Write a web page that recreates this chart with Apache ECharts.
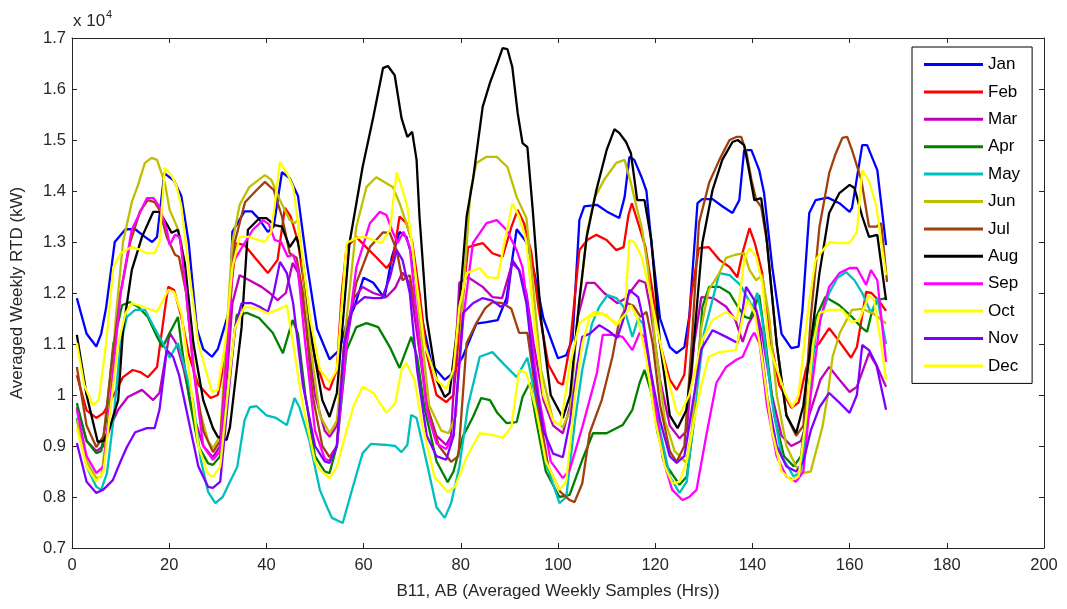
<!DOCTYPE html>
<html>
<head>
<meta charset="utf-8">
<script src="https://cdn.jsdelivr.net/npm/echarts@6/dist/echarts.min.js"></script>
<style>
html,body{margin:0;padding:0;background:#fff;}
#chart{width:1067px;height:609px;}
</style>
</head>
<body>
<div id="chart"></div>
<script>
// Values are in units of 10^4 kW, x = hour of the averaged week
const months = ['Jan','Feb','Mar','Apr','May','Jun','Jul','Aug','Sep','Oct','Nov','Dec'];
const xTicks = [0,20,40,60,80,100,120,140,160,180,200];
const yTicks = [0.7,0.8,0.9,1.0,1.1,1.2,1.3,1.4,1.5,1.6,1.7];

const jan = [[1,1.19],[3,1.12],[5,1.095],[6,1.12],[7,1.17],[8.8,1.30],[11,1.325],[13,1.325],[15,1.31],[16.5,1.30],[17.5,1.31],[19,1.435],[21,1.42],[22.5,1.39],[24,1.30],[25.7,1.13],[27,1.09],[28.8,1.075],[30,1.09],[32.5,1.17],[33,1.32],[35.5,1.36],[37,1.36],[38.5,1.345],[40.3,1.32],[41.5,1.33],[43.2,1.437],[44.8,1.425],[46.5,1.39],[48.3,1.26],[50.4,1.13],[53,1.07],[55,1.088],[56.5,1.14],[58,1.17],[60,1.23],[62,1.22],[64.3,1.19],[65.8,1.27],[67.4,1.32],[68.8,1.31],[70,1.27],[72,1.15],[74,1.06],[76.7,1.03],[78,1.04],[80.4,1.075],[83.2,1.14],[85.3,1.143],[87.6,1.147],[89.4,1.19],[91.5,1.325],[93.5,1.30],[95,1.245],[97,1.15],[100,1.072],[101.7,1.078],[103,1.11],[104.4,1.343],[105.4,1.37],[108,1.373],[110,1.36],[112.6,1.347],[113.7,1.388],[114.7,1.467],[115.7,1.461],[117.2,1.427],[118.2,1.40],[119.2,1.30],[121,1.15],[123,1.094],[124.4,1.082],[126,1.094],[127,1.153],[128.7,1.376],[129.7,1.384],[131.8,1.384],[133.8,1.37],[135.9,1.357],[137.3,1.382],[138.3,1.48],[139.8,1.48],[141.4,1.441],[142.4,1.396],[144.1,1.25],[146,1.12],[148,1.092],[149.5,1.095],[150.3,1.167],[151.7,1.357],[153,1.382],[155.5,1.387],[157.9,1.376],[160,1.359],[160.5,1.367],[162.6,1.49],[163.6,1.49],[165.7,1.441],[167.5,1.294]];

const feb = [[1,1.039],[3,0.97],[5,0.955],[6.5,0.965],[8.8,1.004],[10.5,1.035],[12.5,1.049],[14,1.045],[15.6,1.035],[17.5,1.055],[19.1,1.167],[19.8,1.212],[21,1.206],[22.5,1.153],[24,1.08],[26,1.02],[28.5,0.994],[30,1.0],[31.5,1.07],[32.5,1.2],[33.9,1.298],[35.5,1.294],[38,1.265],[40.3,1.239],[42.3,1.265],[43.8,1.367],[45,1.35],[46.5,1.3],[48,1.2],[50,1.07],[52,1.015],[53,1.01],[54.5,1.05],[55.5,1.2],[56.5,1.29],[58.5,1.31],[60.5,1.29],[62.5,1.271],[64.7,1.249],[66,1.265],[67.4,1.35],[68.8,1.337],[70,1.3],[71.5,1.2],[73,1.08],[75,1.0],[77,0.986],[78.5,1.0],[80,1.15],[81.5,1.29],[84.5,1.298],[86.5,1.278],[88.6,1.271],[90.4,1.329],[91.7,1.363],[93,1.337],[94.5,1.28],[96,1.17],[98,1.06],[100,1.025],[101,1.02],[102.5,1.1],[104.4,1.284],[106,1.304],[107.9,1.314],[110,1.304],[112,1.284],[113.5,1.29],[114.5,1.353],[115.2,1.376],[116.5,1.337],[118,1.29],[119.5,1.2],[121,1.1],[123,1.03],[124.4,1.01],[126,1.04],[127.5,1.2],[129,1.288],[131,1.29],[133.2,1.265],[135.3,1.251],[136.9,1.231],[138,1.28],[139.4,1.327],[140.5,1.298],[142,1.24],[143.5,1.12],[145.5,1.02],[148,0.975],[149.5,0.985],[151,1.05],[152.5,1.09],[153.8,1.102],[155.8,1.131],[157.5,1.11],[160.3,1.073],[161.5,1.094],[163.4,1.202],[164.5,1.2],[166,1.185],[167.5,1.165]];

const mar = [[1,0.976],[3,0.91],[5,0.89],[6.5,0.9],[8,0.94],[9.5,0.971],[11.5,0.996],[14.4,1.01],[16.7,0.99],[18,1.004],[19,1.06],[20.1,1.122],[21.5,1.1],[23,1.05],[25,0.96],[27,0.9],[29,0.878],[30.5,0.9],[32,1.05],[33,1.18],[34.5,1.235],[36.5,1.225],[39,1.212],[40.7,1.2],[42.3,1.186],[44,1.2],[45.4,1.259],[46.5,1.24],[48,1.15],[50,1.0],[52,0.93],[53,0.918],[54.5,0.94],[56.5,1.1],[58,1.19],[59.8,1.212],[62,1.2],[64.7,1.192],[66.5,1.21],[68,1.24],[69.5,1.22],[71,1.12],[73,0.98],[75,0.92],[77,0.902],[78,0.92],[79.7,1.22],[81.5,1.231],[84.5,1.212],[86.5,1.192],[88.5,1.19],[90.6,1.259],[92,1.245],[93.5,1.2],[95,1.1],[97,0.99],[99,0.94],[101,0.925],[102.5,0.98],[104,1.15],[105.9,1.22],[107.5,1.22],[109.5,1.2],[112.2,1.18],[114,1.19],[115.5,1.21],[116.7,1.225],[118,1.22],[119,1.17],[121,1.03],[123,0.94],[125,0.915],[126.5,0.93],[128,1.1],[129.5,1.192],[132,1.19],[134.6,1.173],[136.5,1.147],[138,1.104],[139.2,1.14],[140.8,1.167],[142,1.12],[144,1.0],[146,0.92],[148,0.9],[150,0.91],[152,0.97],[154,1.03],[155.8,1.055],[158,1.029],[160,1.006],[161.5,1.016],[164,1.082],[165.7,1.055],[167.5,1.016]];

const apr = [[1,0.984],[3,0.91],[5,0.886],[6,0.89],[7,0.95],[8.5,1.1],[10.3,1.176],[11.9,1.182],[13.6,1.173],[15.6,1.153],[17.5,1.114],[18.7,1.094],[20,1.12],[21.8,1.153],[22.5,1.1],[24,1.0],[26,0.9],[28,0.866],[29,0.863],[30.5,0.88],[32,1.0],[33.9,1.157],[36,1.161],[38.5,1.151],[41.3,1.122],[43.4,1.082],[45.4,1.147],[46.5,1.12],[48,1.0],[50,0.88],[52,0.85],[53,0.847],[54.5,0.9],[56.5,1.088],[58.5,1.133],[60.6,1.141],[63,1.133],[65.4,1.094],[67.4,1.053],[69.8,1.114],[71,1.075],[72.5,0.976],[75,0.87],[77.3,0.829],[78.5,0.85],[80.4,0.918],[82.5,0.957],[84.2,0.994],[86,0.99],[87.5,0.965],[89.4,0.945],[91.5,0.947],[92.7,0.996],[94.2,1.024],[95.5,0.95],[97.5,0.85],[100.3,0.8],[102.4,0.804],[105,0.873],[107.2,0.925],[110,0.925],[113.3,0.941],[115.3,0.971],[116.8,1.024],[117.8,1.049],[119.2,1.004],[120.5,0.925],[122.5,0.859],[125,0.824],[126.5,0.84],[128,0.95],[129.7,1.173],[131.1,1.212],[133.2,1.212],[135.3,1.2],[137,1.173],[138.5,1.153],[139.5,1.15],[141.4,1.196],[142.5,1.12],[144.5,0.96],[146.5,0.88],[148.5,0.86],[150,0.88],[151.5,1.0],[153,1.15],[155,1.192],[157.9,1.176],[160.5,1.153],[162.6,1.131],[163.6,1.124],[164.5,1.16],[165.7,1.186],[167.5,1.19]];

const may = [[1,0.955],[3,0.86],[5,0.82],[6,0.814],[7.2,0.847],[8.5,0.95],[10,1.1],[11.3,1.153],[13,1.167],[15,1.167],[17,1.131],[18.7,1.102],[20.1,1.073],[21.8,1.102],[23,1.06],[24.9,0.99],[26.5,0.873],[28,0.81],[29.5,0.788],[31,0.8],[32.5,0.83],[34,0.859],[35.5,0.95],[36.6,0.976],[38,0.978],[40,0.96],[42,0.955],[44.2,0.941],[45.8,0.994],[46.8,0.976],[48.8,0.912],[51,0.814],[52.5,0.78],[53.5,0.759],[55.7,0.749],[57.8,0.82],[59.8,0.886],[61.5,0.904],[64.7,0.902],[66.5,0.9],[67.8,0.888],[69,0.902],[69.8,0.961],[70.9,0.955],[73,0.867],[75,0.78],[76.7,0.759],[78,0.788],[79.7,0.859],[81.5,0.98],[83.9,1.075],[86.5,1.084],[89,1.059],[91.5,1.035],[93.7,1.073],[95.5,0.99],[97.5,0.867],[100.3,0.788],[101.7,0.8],[103.5,0.95],[105,1.05],[107,1.14],[108.5,1.173],[110.2,1.196],[112,1.19],[113.5,1.173],[115.3,1.114],[116.5,1.15],[117.5,1.14],[119,1.05],[121,0.93],[123,0.84],[125,0.808],[126.5,0.83],[128,0.96],[130,1.12],[133.2,1.239],[135.3,1.235],[137.5,1.216],[139,1.19],[140,1.173],[141,1.2],[142,1.15],[144,0.99],[146,0.88],[148.5,0.84],[150,0.85],[151.5,0.98],[153,1.12],[155.8,1.2],[157.5,1.23],[159.3,1.241],[161,1.225],[162.6,1.2],[164.4,1.161],[165.7,1.19],[167.5,1.1]];

const jun = [[1,0.951],[3,0.87],[5,0.837],[6,0.84],[7.5,0.95],[9,1.15],[10.5,1.3],[12.3,1.378],[13.6,1.412],[15,1.455],[16.4,1.465],[17.5,1.461],[18,1.447],[19.1,1.416],[20.1,1.363],[21.6,1.33],[22.5,1.3],[24,1.15],[26,0.98],[28,0.91],[29,0.896],[30.5,0.92],[32,1.15],[33,1.3],[34.5,1.373],[36.5,1.408],[39.7,1.431],[41,1.422],[42.8,1.382],[44.8,1.343],[45.8,1.337],[46.5,1.343],[47.5,1.25],[49,1.1],[51,0.96],[53,0.925],[54.5,0.95],[56.5,1.15],[58.5,1.33],[60.6,1.408],[62.6,1.427],[64.5,1.416],[66,1.408],[67.4,1.376],[68.8,1.337],[70,1.3],[71.5,1.15],[73.5,0.98],[76,0.93],[77.5,0.925],[79,0.96],[80.5,1.2],[82,1.4],[83.2,1.455],[85.3,1.467],[87.4,1.467],[89.6,1.447],[91.5,1.388],[93.5,1.347],[94.5,1.25],[96.5,1.05],[99,0.95],[101,0.937],[102.5,0.97],[104,1.15],[106,1.32],[107.5,1.386],[109.5,1.422],[112,1.455],[113.7,1.461],[115,1.416],[116.3,1.363],[117.2,1.33],[118.5,1.25],[120,1.1],[122,0.95],[124,0.89],[126.4,0.867],[127.5,0.93],[128.5,1.035],[129.5,1.133],[131,1.206],[133.2,1.239],[134.6,1.269],[136.5,1.275],[138.3,1.278],[139.4,1.245],[140.8,1.225],[142,1.235],[143.5,1.15],[145,1.0],[147,0.9],[149,0.86],[150.3,0.847],[152,0.85],[154.4,0.937],[155.5,1.0],[156.5,1.075],[158,1.122],[160.5,1.167],[162.6,1.169],[165,1.159],[167.5,1.14]];

const jul = [[1,1.055],[3,0.94],[5,0.898],[6.5,0.92],[8,1.05],[10,1.2],[12,1.3],[14,1.36],[15.6,1.382],[17,1.378],[18,1.363],[19.5,1.31],[21.2,1.275],[22,1.271],[23.5,1.2],[25,1.05],[27,0.93],[29,0.888],[30.5,0.91],[32,1.1],[33.5,1.3],[35.6,1.378],[38,1.402],[39.7,1.418],[41.5,1.402],[43.2,1.35],[44.8,1.278],[46.2,1.269],[47.5,1.2],[49.5,1.0],[51.5,0.9],[53,0.878],[54.5,0.9],[56,1.1],[58.5,1.22],[61.3,1.29],[64,1.319],[65.4,1.318],[66.8,1.284],[68,1.225],[69.5,1.235],[71,1.15],[73,0.98],[75.5,0.9],[78,0.869],[79.5,0.88],[81.2,1.102],[83.2,1.141],[85,1.17],[86.5,1.182],[88.6,1.18],[90.4,1.169],[92,1.122],[93.7,1.122],[95.5,1.0],[98,0.86],[100.5,0.81],[102.4,0.794],[103.4,0.79],[105,0.827],[106.5,0.925],[109,0.99],[111.2,1.075],[112.5,1.141],[114.3,1.18],[115.5,1.175],[117,1.153],[118.2,1.163],[119.5,1.1],[121,0.98],[123,0.89],[124.4,0.869],[126,0.9],[127.5,1.1],[129,1.337],[131.1,1.416],[133.2,1.461],[135.3,1.5],[136.7,1.506],[137.7,1.506],[138.8,1.474],[139.8,1.422],[140.8,1.382],[141.8,1.369],[143,1.3],[145,1.1],[147,0.96],[149,0.92],[150.5,0.94],[152,1.15],[153.8,1.33],[155.8,1.435],[157,1.47],[158.5,1.504],[159.5,1.506],[160.5,1.48],[162.4,1.422],[164,1.33],[165.5,1.33],[166.5,1.337],[167.7,1.222]];

const aug = [[1,1.118],[3,1.0],[5.3,0.908],[6.5,0.91],[7.8,0.937],[9.5,0.99],[10.5,1.127],[12.3,1.245],[14.4,1.31],[16.7,1.359],[18,1.359],[19.8,1.33],[20.5,1.318],[21.8,1.324],[23.2,1.26],[25,1.1],[27,0.99],[29,0.935],[30,0.918],[31.8,0.912],[32.5,0.937],[34.9,1.133],[36.2,1.324],[38.6,1.347],[40,1.347],[41.7,1.333],[43.2,1.33],[44.8,1.29],[46.2,1.31],[47.5,1.26],[49.5,1.1],[51.5,0.99],[53,0.957],[54.5,1.004],[57.1,1.298],[59.8,1.447],[62,1.545],[64,1.641],[65,1.645],[66.4,1.627],[67.8,1.543],[69,1.506],[70,1.516],[70.9,1.461],[71.5,1.35],[73,1.15],[75,1.03],[76.7,0.996],[77.7,1.004],[79.5,1.15],[81.2,1.35],[82.5,1.422],[84.5,1.565],[86,1.612],[87.6,1.653],[88.6,1.68],[89.6,1.678],[90.6,1.643],[91.7,1.553],[92.7,1.494],[93.7,1.486],[94.8,1.363],[96.5,1.15],[98.5,1.0],[101,0.955],[102.5,1.0],[104.4,1.186],[105.9,1.31],[107.9,1.402],[110,1.48],[111.6,1.521],[112.6,1.514],[114,1.496],[115,1.474],[116.3,1.382],[117.8,1.382],[119.2,1.304],[121,1.1],[123,0.96],[124.6,0.935],[126.4,0.97],[127.5,1.055],[129.7,1.298],[131.8,1.402],[133.8,1.461],[135.9,1.496],[137,1.5],[138.3,1.49],[139.4,1.435],[140.4,1.382],[141.8,1.386],[142.8,1.318],[145,1.1],[147,0.96],[149,0.925],[150.5,0.98],[152,1.1],[153.8,1.239],[155.8,1.357],[157.9,1.396],[160,1.412],[161,1.406],[162.6,1.35],[164,1.31],[165.7,1.314],[167.5,1.186]];

const sep = [[1,0.971],[3,0.88],[5,0.847],[6.5,0.86],[8,1.0],[10,1.2],[12.3,1.324],[13.6,1.35],[15.4,1.386],[16.8,1.386],[18,1.369],[19.5,1.324],[20.1,1.294],[21.2,1.314],[22.2,1.31],[23.5,1.2],[25,1.05],[27,0.9],[29,0.873],[30.5,0.89],[32,1.1],[33.1,1.259],[35,1.29],[37.2,1.324],[39.3,1.343],[40.5,1.335],[41.7,1.304],[43,1.3],[44.4,1.271],[45.5,1.275],[46.5,1.245],[48,1.1],[50,0.93],[52,0.875],[53,0.871],[54.5,0.9],[56.5,1.1],[58.5,1.25],[61.3,1.337],[63.3,1.359],[64.7,1.353],[65.8,1.324],[67,1.298],[68.2,1.32],[69.5,1.29],[71,1.15],[73,0.97],[75,0.905],[77,0.894],[78.5,0.92],[80.5,1.15],[82.5,1.298],[85.3,1.337],[87.4,1.343],[89.4,1.324],[91.5,1.284],[92.7,1.25],[94,1.15],[96,1.0],[98.5,0.87],[101,0.837],[102.4,0.853],[105,0.937],[108,1.043],[109.2,1.118],[111.2,1.118],[113.3,1.114],[115.3,1.088],[116.8,1.122],[117.8,1.114],[119.2,1.035],[121.5,0.878],[123.5,0.814],[125.6,0.794],[127,0.8],[128.5,0.814],[130.5,0.92],[132.6,1.024],[134.6,1.055],[136.7,1.069],[138,1.075],[139.8,1.114],[140.4,1.122],[141.5,1.1],[143,0.98],[145,0.88],[147,0.84],[149,0.83],[150.5,0.85],[152,1.0],[154,1.15],[155.8,1.212],[157.9,1.239],[160,1.249],[161.5,1.249],[163.4,1.216],[164.4,1.245],[165.7,1.225],[167.5,1.065]];

const oct = [[1,1.102],[2.5,1.02],[4.3,0.98],[5.5,0.99],[7,1.1],[8.5,1.25],[10,1.278],[12.3,1.29],[14,1.285],[15.4,1.278],[17,1.278],[18,1.3],[19.1,1.445],[20.5,1.43],[21.5,1.41],[22.5,1.37],[24,1.25],[26,1.1],[28.8,1.006],[30,1.01],[31.5,1.1],[33,1.25],[34.5,1.31],[36.5,1.31],[38,1.305],[39.7,1.30],[41,1.32],[42.8,1.457],[44.5,1.43],[45.5,1.408],[47,1.3],[49,1.15],[51,1.05],[53,1.025],[54.5,1.05],[56.5,1.298],[58.5,1.308],[60.2,1.31],[62,1.304],[63.7,1.298],[65.4,1.324],[66.8,1.437],[68,1.402],[69,1.369],[70.5,1.25],[72.5,1.1],[75,1.03],[77,1.012],[78.5,1.05],[79.7,1.173],[81.2,1.239],[83.9,1.249],[85.5,1.231],[87.6,1.229],[88.8,1.29],[90.6,1.376],[92,1.35],[93.5,1.3],[95,1.15],[97,1.0],[99,0.95],[100.5,0.94],[102.4,1.055],[104.4,1.141],[107.5,1.163],[110,1.157],[112,1.137],[113.7,1.153],[114.7,1.304],[115.7,1.30],[117.2,1.271],[118.2,1.231],[120,1.15],[122.3,1.043],[124.3,0.971],[125,0.961],[127,1.0],[129.7,1.108],[131.8,1.147],[134.6,1.163],[136.8,1.147],[138.3,1.265],[139.4,1.288],[140.8,1.271],[142,1.22],[143.5,1.094],[146.7,1.004],[148.2,0.976],[149.5,1.0],[151.7,1.186],[153,1.265],[155.8,1.30],[157.9,1.298],[160,1.298],[161.5,1.32],[162.6,1.441],[164,1.42],[165.5,1.37],[166.5,1.3],[167.5,1.235]];

const nov = [[1,0.906],[3,0.83],[5,0.808],[6.5,0.815],[8.4,0.833],[10,0.87],[11.3,0.898],[13,0.927],[15.4,0.935],[17,0.935],[18,0.971],[19.5,1.088],[20.8,1.075],[22,1.04],[24,0.95],[26,0.86],[28,0.82],[29,0.818],[30.5,0.83],[32,0.98],[33.5,1.13],[34.9,1.18],[37,1.18],[38.6,1.173],[40.3,1.163],[41.5,1.2],[42.8,1.261],[44.2,1.239],[45.5,1.18],[47.5,1.02],[50,0.9],[52,0.87],[53,0.867],[54.5,0.9],[56,1.1],[57.8,1.173],[60.2,1.192],[62,1.19],[63.8,1.19],[65.4,1.23],[66.8,1.284],[68,1.265],[69.5,1.2],[71,1.05],[73,0.92],[75,0.88],[77,0.873],[78.5,0.92],[80.5,1.161],[82.5,1.18],[84.5,1.19],[86.5,1.185],[88.2,1.173],[89.5,1.18],[90.6,1.265],[92,1.245],[93.5,1.18],[95,1.05],[97,0.93],[99,0.885],[101,0.878],[102.5,0.95],[104,1.06],[105,1.114],[106.5,1.12],[108.5,1.137],[110.5,1.125],[112.2,1.112],[113.5,1.15],[114.7,1.206],[116.5,1.192],[117.5,1.15],[119,1.05],[121,0.95],[123,0.88],[124.4,0.867],[126,0.88],[128,1.0],[129.5,1.09],[131.8,1.127],[134.6,1.114],[137,1.102],[138.7,1.212],[140.4,1.186],[141.5,1.12],[143,1.0],[145,0.9],[147,0.86],[149,0.85],[150.5,0.87],[152,0.93],[153.8,0.976],[155.8,1.004],[158,0.984],[160,0.965],[161.5,1.0],[162.6,1.098],[164,1.088],[165.5,1.06],[167.5,0.971]];

const dec = [[1,0.935],[3,0.86],[5,0.83],[6.5,0.85],[8,0.98],[9.5,1.1],[11,1.16],[12.3,1.18],[14,1.175],[15.5,1.17],[17.5,1.163],[19.8,1.206],[21,1.202],[22.5,1.16],[24,1.05],[26,0.9],[28,0.845],[29,0.839],[30.5,0.86],[32,1.0],[33.5,1.13],[35.5,1.173],[38,1.17],[40.3,1.16],[42.5,1.168],[44.2,1.176],[45.5,1.1],[47.5,0.98],[50,0.87],[51,0.853],[53,0.837],[54.5,0.859],[56.5,0.931],[58,0.98],[59.8,1.016],[62,1.004],[64.7,0.965],[66.5,0.984],[67.8,1.049],[68.8,1.063],[70.5,1.029],[72,0.945],[74.6,0.839],[77.3,0.81],[78.8,0.82],[81.2,0.878],[83.9,0.925],[86.5,0.922],[88.6,0.916],[90.4,0.937],[92,1.049],[93.5,1.043],[95.5,0.97],[97.5,0.87],[100.3,0.814],[101.7,0.83],[103.5,1.0],[105,1.1],[106.5,1.153],[109,1.161],[110.5,1.15],[112.2,1.141],[114,1.16],[115,1.176],[116.5,1.147],[118,1.08],[120,0.95],[122,0.86],[123.6,0.826],[125,0.83],[126.5,0.87],[128,0.95],[129.5,1.02],[131,1.075],[133.2,1.084],[136.6,1.088],[138,1.153],[139,1.186],[140.5,1.16],[142,1.07],[144,0.93],[146,0.85],[148,0.833],[149.5,0.84],[151,0.95],[152.5,1.1],[153.8,1.161],[155.8,1.167],[158.5,1.167],[160.3,1.143],[162,1.147],[164,1.196],[165,1.186],[166.5,1.1],[167.5,1.029]];

const seriesData = [jan, feb, mar, apr, may, jun, jul, aug, sep, oct, nov, dec];
const lineColors = ['#0000FF','#FF0000','#BF00BF','#007F00','#00BFBF','#BFBF00','#A0410D','#000000','#FF00FF','#FFFF00','#8000FF','#FFFF00'];

const axisColor = '#262626';
const font = '"Liberation Sans", Arial, sans-serif';
const fmtY = v => String(Math.round(v * 10) / 10);

const chart = echarts.init(document.getElementById('chart'), null, {renderer: 'canvas'});
const option = {
  animation: false,
  backgroundColor: '#ffffff',
  textStyle: {fontFamily: font},
  grid: {left: 72, right: 23, top: 38, bottom: 61},
  legend: {
    orient: 'vertical', left: 912, top: 47,
    icon: 'rect', itemWidth: 59, itemHeight: 3, itemGap: 8.4,
    padding: [8, 12, 8, 12],
    backgroundColor: '#ffffff', borderColor: '#000000', borderWidth: 1, borderRadius: 0,
    textStyle: {fontSize: 17, color: '#000000', lineHeight: 19, fontFamily: font},
    data: months
  },
  xAxis: [
    {
      type: 'value', min: xTicks[0], max: xTicks[xTicks.length - 1], interval: xTicks[1] - xTicks[0], position: 'bottom',
      axisLine: {show: true, onZero: false, lineStyle: {color: axisColor, width: 1}},
      axisTick: {show: true, inside: true, length: 5, lineStyle: {color: axisColor}},
      axisLabel: {margin: 9, fontSize: 16.5, color: axisColor, fontFamily: font},
      splitLine: {show: false},
      name: 'B11, AB (Averaged Weekly Samples (Hrs))', nameLocation: 'middle', nameGap: 35,
      nameTextStyle: {fontSize: 17, color: axisColor, fontFamily: font}
    },
    {
      type: 'value', min: xTicks[0], max: xTicks[xTicks.length - 1], interval: xTicks[1] - xTicks[0], position: 'top',
      axisLine: {show: true, onZero: false, lineStyle: {color: axisColor, width: 1}},
      axisTick: {show: true, inside: true, length: 5, lineStyle: {color: axisColor}},
      axisLabel: {show: false}, splitLine: {show: false}
    }
  ],
  yAxis: [
    {
      type: 'value', min: yTicks[0], max: yTicks[yTicks.length - 1], interval: 0.1, position: 'left',
      axisLine: {show: true, onZero: false, lineStyle: {color: axisColor, width: 1}},
      axisTick: {show: true, inside: true, length: 5, lineStyle: {color: axisColor}},
      axisLabel: {margin: 6, fontSize: 16.5, color: axisColor, fontFamily: font, formatter: fmtY},
      splitLine: {show: false},
      name: 'Averaged Weekly RTD (kW)', nameLocation: 'middle', nameGap: 46,
      nameTextStyle: {fontSize: 17, color: axisColor, fontFamily: font}
    },
    {
      type: 'value', min: yTicks[0], max: yTicks[yTicks.length - 1], interval: 0.1, position: 'right',
      axisLine: {show: true, onZero: false, lineStyle: {color: axisColor, width: 1}},
      axisTick: {show: true, inside: true, length: 5, lineStyle: {color: axisColor}},
      axisLabel: {show: false}, splitLine: {show: false}
    }
  ],
  graphic: [
    {type: 'text', left: 73, top: 13, style: {text: 'x 10', font: '17px ' + font, fill: axisColor}},
    {type: 'text', left: 106, top: 9, style: {text: '4', font: '11px ' + font, fill: axisColor}}
  ],
  series: months.map((m, i) => ({
    name: m, type: 'line', xAxisIndex: 0, yAxisIndex: 0,
    data: seriesData[i], symbol: 'none', smooth: false,
    lineStyle: {width: 2.3, color: lineColors[i]},
    itemStyle: {color: lineColors[i]},
    z: 2 + i
  }))
};
chart.setOption(option);
</script>
</body>
</html>
